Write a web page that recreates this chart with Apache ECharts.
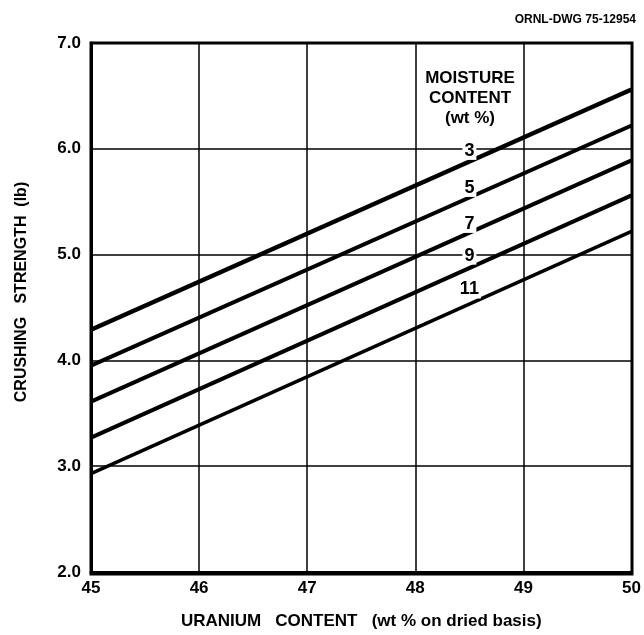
<!DOCTYPE html>
<html>
<head>
<meta charset="utf-8">
<script src="https://cdn.jsdelivr.net/npm/echarts@6/dist/echarts.min.js"></script>
<style>
  html, body { margin: 0; padding: 0; background: #fff; }
  #main { width: 644px; height: 635px; }
</style>
</head>
<body>
<div id="main"></div>
<script>
// uranium content (wt % dried basis) at the two ends of each line
const uranium = [45, 50];
const moisture = ['3', '5', '7', '9', '11'];
// crushing strength (lb) at x = 45 and x = 50, one pair per moisture level
const strength3 = [4.29, 6.56];
const strength5 = [3.95, 6.22];
const strength7 = [3.61, 5.89];
const strength9 = [3.27, 5.56];
const strength11 = [2.93, 5.22];
// where the moisture labels sit
const labelX = [48.5, 48.5, 48.5, 48.5, 48.5];
const labelY = [5.98, 5.63, 5.29, 4.99, 4.67];

const allStrength = [strength3, strength5, strength7, strength9, strength11];
const lineWidths = [4.5, 4, 4, 4, 3.5];

const chart = echarts.init(document.getElementById('main'));

const lineSeries = allStrength.map((vals, i) => ({
  name: moisture[i],
  type: 'line',
  data: uranium.map((x, j) => [x, vals[j]]),
  symbol: 'none',
  lineStyle: { color: '#000', width: lineWidths[i] },
  z: 3,
  animation: false,
}));

const font = 'Liberation Sans, Arial, sans-serif';

chart.setOption({
  animation: false,
  grid: { left: 91, right: 12, top: 43, bottom: 61, containLabel: false },
  title: {
    text: 'ORNL-DWG 75-12954',
    right: 3,
    top: 9,
    textStyle: { fontFamily: font, fontSize: 12, fontWeight: 'bold', color: '#000' },
  },
  xAxis: {
    type: 'value',
    min: 45,
    max: 50,
    interval: 1,
    name: 'URANIUM   CONTENT   (wt % on dried basis)',
    nameLocation: 'middle',
    nameGap: 41,
    nameTextStyle: { fontFamily: font, fontSize: 17, fontWeight: 'bold', color: '#000' },
    axisLine: { show: true, lineStyle: { color: '#000', width: 3 } },
    axisTick: { show: false },
    axisLabel: { fontFamily: font, fontSize: 17, fontWeight: 'bold', color: '#000', margin: 8 },
    splitLine: { show: true, lineStyle: { color: '#000', width: 1.5 } },
  },
  yAxis: {
    type: 'value',
    min: 2,
    max: 7,
    interval: 1,
    axisLine: { show: true, lineStyle: { color: '#000', width: 3 } },
    axisTick: { show: false },
    axisLabel: {
      fontFamily: font, fontSize: 17, fontWeight: 'bold', color: '#000', margin: 10,
      formatter: (v) => v.toFixed(1),
    },
    splitLine: { show: true, lineStyle: { color: '#000', width: 1.5 } },
  },
  graphic: [
    {
      type: 'rect',
      shape: { x: 91, y: 43, width: 541, height: 531 },
      style: { fill: 'none', stroke: '#000', lineWidth: 3 },
      z: 10,
      silent: true,
    },
    {
      type: 'text',
      x: 22,
      y: 292,
      rotation: Math.PI / 2,
      style: {
        text: 'CRUSHING   STRENGTH  (lb)',
        align: 'center',
        verticalAlign: 'middle',
        fontFamily: font,
        fontSize: 16,
        fontWeight: 'bold',
        fill: '#000',
      },
      z: 10,
    },
    {
      type: 'text',
      x: 470,
      y: 68,
      style: {
        text: 'MOISTURE\nCONTENT\n(wt %)',
        align: 'center',
        fontFamily: font,
        fontSize: 17,
        fontWeight: 'bold',
        lineHeight: 20,
        fill: '#000',
      },
      z: 10,
    },
  ],
  series: lineSeries.concat([{
    type: 'scatter',
    data: labelX.map((x, i) => [x, labelY[i], moisture[i]]),
    symbolSize: 0,
    itemStyle: { opacity: 1 },
    label: {
      show: true,
      position: 'inside',
      formatter: (p) => p.value[2],
      fontFamily: font,
      fontSize: 18,
      fontWeight: 'bold',
      color: '#000',
      backgroundColor: '#fff',
      padding: [0, 2],
    },
    z: 5,
    animation: false,
  }]),
});
</script>
</body>
</html>
